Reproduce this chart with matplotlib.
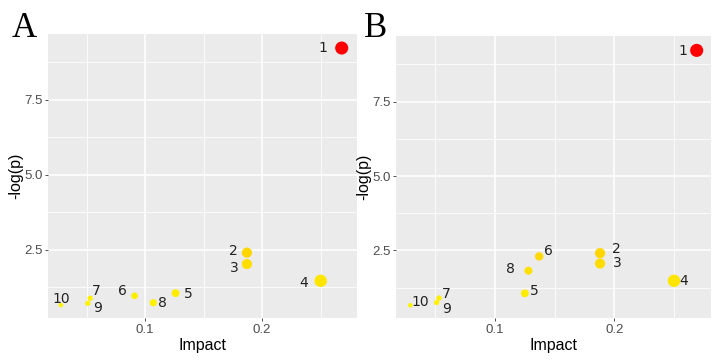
import matplotlib
matplotlib.use("Agg")
import matplotlib.pyplot as plt
from matplotlib.colors import LinearSegmentedColormap, Normalize
from matplotlib.ticker import MultipleLocator

# pathway ids
ids = ["1", "2", "3", "4", "5", "6", "7", "8", "9", "10"]

# panel A
impact_a = [0.268, 0.187, 0.187, 0.250, 0.126, 0.091, 0.053, 0.107, 0.051, 0.028]
logp_a = [9.23, 2.41, 2.03, 1.47, 1.06, 0.97, 0.89, 0.74, 0.72, 0.66]

# panel B
impact_b = [0.269, 0.188, 0.188, 0.250, 0.125, 0.137, 0.053, 0.128, 0.051, 0.029]
logp_b = [9.22, 2.41, 2.06, 1.48, 1.06, 2.30, 0.90, 1.82, 0.75, 0.66]

# label offsets (pixels) for the point names
offs_a = [(-19, 0), (-14, 2), (-13, -4), (-17, -2), (13, -1), (-12, 5), (6, 7), (9, 0), (10, -5), (0, 6)]
offs_b = [(-14, -1), (16, 4), (17, 1), (10, 0), (9, 2), (9, 5), (7, 4), (-18, 2), (10, -6), (10, 3)]

cmap = LinearSegmentedColormap.from_list(
    "yr", [(0, "#FFF200"), (0.2, "#FFD700"), (0.6, "#FF7A00"), (1, "#FF0000")])

fig = plt.figure(figsize=(7.2, 3.61), dpi=100)


def panel(rect, impact, logp, offs, letter, letter_xy):
    ax = fig.add_axes(rect)
    ax.set_facecolor("#EBEBEB")
    for s in ax.spines.values():
        s.set_visible(False)
    norm = Normalize(min(logp), max(logp))
    sizes = [(2 * (1.7 + 18 * v) * 0.72) ** 2 for v in impact]
    ax.scatter(impact, logp, s=sizes, c=logp, cmap=cmap, norm=norm,
               linewidths=0, zorder=3)
    for name, x, y, (dx, dy) in zip(ids, impact, logp, offs):
        ax.annotate(name, (x, y), xytext=(dx, dy), textcoords="offset pixels",
                    ha="center", va="center", fontsize=10, color="#222222",
                    family="DejaVu Sans", zorder=4)
    ax.set_xlim(0.017, 0.281)
    ax.set_ylim(0.23, 9.7)
    ax.xaxis.set_minor_locator(MultipleLocator(0.05))
    ax.yaxis.set_minor_locator(MultipleLocator(1.25))
    ax.set_xticks([0.1, 0.2])
    ax.set_xticklabels(["0.1", "0.2"])
    ax.set_yticks([2.5, 5.0, 7.5])
    ax.set_yticklabels(["2.5", "5.0", "7.5"])
    ax.grid(True, which="major", color="white", lw=1.1, zorder=0)
    ax.grid(True, which="minor", color="white", lw=0.55, zorder=0)
    ax.set_axisbelow(True)
    ax.tick_params(which="major", length=2.5, width=0.6, color="#333333",
                   labelsize=9.5, labelcolor="#4D4D4D", pad=1.5)
    ax.tick_params(which="minor", length=0)
    ax.set_xlabel("Impact", fontsize=11.5, family="Liberation Sans", labelpad=2)
    ax.set_ylabel("-log(p)", fontsize=11.5, family="Liberation Sans")
    ax.yaxis.set_label_coords(-0.079, 0.5)
    for t in ax.get_xticklabels() + ax.get_yticklabels():
        t.set_family("Liberation Sans")
    fig.text(letter_xy[0], letter_xy[1], letter, fontsize=25,
             family="Liberation Serif", ha="left", va="baseline")
    return ax


panel([0.0667, 0.119, 0.429, 0.787], impact_a, logp_a, offs_a, "A", (0.016, 0.897))
panel([0.55, 0.119, 0.4375, 0.781], impact_b, logp_b, offs_b, "B", (0.506, 0.897))

fig.savefig("out.png", dpi=100)
